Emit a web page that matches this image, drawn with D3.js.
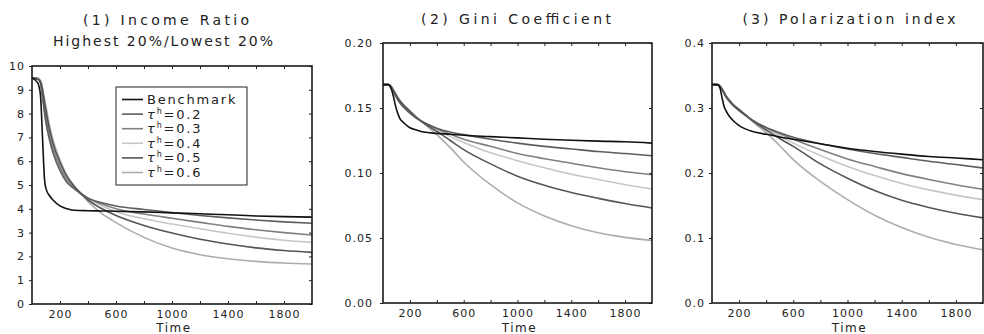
<!DOCTYPE html>
<html>
<head>
<meta charset="utf-8">
<script src="https://d3js.org/d3.v7.min.js"></script>
<style>
    body { margin: 0; background: #fff; }
    svg text { font-family: "DejaVu Sans", sans-serif; fill: #222; }
</style>
</head>
<body>
<div id="chart"></div>
<script>
// Time grid shared by every series
var timeSteps = [0, 40, 60, 75, 90, 100, 125, 150, 200, 250, 300, 400, 500, 600, 800, 1000, 1200, 1400, 1600, 1800, 2000];

// Series: Benchmark, tau^h = 0.2 .. 0.6
var seriesNames = ["Benchmark", "0.2", "0.3", "0.4", "0.5", "0.6"];
var seriesColors = ["#111111", "#5e5e5e", "#808080", "#c6c6c6", "#555555", "#adadad"];

var incomeRatio = [
    [9.5, 9.3, 8.8, 7.0, 5.2, 4.85, 4.55, 4.37, 4.12, 4.0, 3.94, 3.92, 3.91, 3.9, 3.87, 3.83, 3.79, 3.75, 3.7, 3.67, 3.65],
    [9.5, 9.45, 9.3, 8.7, 8.0, 7.6, 6.9, 6.35, 5.6, 5.1, 4.85, 4.45, 4.25, 4.12, 3.97, 3.84, 3.72, 3.62, 3.53, 3.45, 3.39],
    [9.5, 9.45, 9.3, 8.8, 8.15, 7.8, 7.05, 6.5, 5.75, 5.2, 4.9, 4.45, 4.2, 4.0, 3.78, 3.6, 3.43, 3.26, 3.12, 3.0, 2.9],
    [9.5, 9.45, 9.35, 8.9, 8.3, 7.95, 7.2, 6.65, 5.85, 5.3, 4.95, 4.42, 4.12, 3.88, 3.58, 3.36, 3.16, 2.97, 2.81, 2.68, 2.59],
    [9.5, 9.45, 9.35, 9.0, 8.45, 8.1, 7.35, 6.75, 5.95, 5.35, 4.95, 4.38, 4.0, 3.72, 3.3, 2.98, 2.72, 2.52, 2.36, 2.25, 2.17],
    [9.5, 9.5, 9.4, 9.1, 8.6, 8.3, 7.5, 6.9, 6.05, 5.4, 4.98, 4.3, 3.8, 3.42, 2.8, 2.35, 2.07, 1.9, 1.79, 1.72, 1.68]
];

var giniCoefficient = [
    [0.168, 0.168, 0.165, 0.160, 0.153, 0.149, 0.142, 0.139, 0.1348, 0.133, 0.1315, 0.1305, 0.1298, 0.129, 0.128, 0.127, 0.126, 0.1252, 0.1245, 0.124, 0.123],
    [0.168, 0.168, 0.166, 0.163, 0.160, 0.158, 0.154, 0.151, 0.146, 0.142, 0.139, 0.1345, 0.1315, 0.1295, 0.126, 0.123, 0.1205, 0.1185, 0.1165, 0.115, 0.1133],
    [0.168, 0.168, 0.166, 0.1635, 0.1605, 0.1585, 0.1545, 0.1515, 0.1465, 0.1425, 0.139, 0.134, 0.1298, 0.126, 0.1205, 0.115, 0.111, 0.1075, 0.104, 0.101, 0.0987],
    [0.168, 0.168, 0.1665, 0.164, 0.161, 0.159, 0.155, 0.152, 0.147, 0.1425, 0.139, 0.1335, 0.128, 0.1235, 0.1155, 0.1095, 0.104, 0.099, 0.095, 0.091, 0.0877],
    [0.168, 0.168, 0.1665, 0.164, 0.1615, 0.1595, 0.1555, 0.1525, 0.1475, 0.1425, 0.1385, 0.132, 0.125, 0.118, 0.107, 0.0975, 0.0905, 0.085, 0.0805, 0.0765, 0.0731],
    [0.168, 0.168, 0.167, 0.1645, 0.162, 0.160, 0.156, 0.153, 0.148, 0.143, 0.1385, 0.1295, 0.1195, 0.1085, 0.091, 0.077, 0.067, 0.0595, 0.054, 0.0505, 0.0482]
];

var polarizationIndex = [
    [0.336, 0.336, 0.330, 0.315, 0.302, 0.297, 0.288, 0.282, 0.273, 0.2675, 0.264, 0.2595, 0.2555, 0.252, 0.245, 0.238, 0.233, 0.229, 0.2255, 0.223, 0.2205],
    [0.336, 0.336, 0.333, 0.328, 0.322, 0.318, 0.311, 0.305, 0.296, 0.288, 0.281, 0.27, 0.262, 0.255, 0.245, 0.237, 0.23, 0.224, 0.218, 0.213, 0.2077],
    [0.336, 0.336, 0.333, 0.3285, 0.3225, 0.3185, 0.3115, 0.3055, 0.2965, 0.2885, 0.281, 0.2695, 0.2605, 0.252, 0.236, 0.2215, 0.21, 0.199, 0.19, 0.182, 0.175],
    [0.336, 0.336, 0.3335, 0.329, 0.323, 0.319, 0.312, 0.306, 0.297, 0.289, 0.281, 0.268, 0.257, 0.246, 0.227, 0.21, 0.196, 0.184, 0.174, 0.166, 0.159],
    [0.336, 0.336, 0.3335, 0.329, 0.3235, 0.3195, 0.3125, 0.3065, 0.2975, 0.289, 0.2805, 0.266, 0.253, 0.241, 0.214, 0.192, 0.173, 0.158, 0.147, 0.138, 0.131],
    [0.336, 0.336, 0.334, 0.3295, 0.324, 0.320, 0.313, 0.307, 0.298, 0.289, 0.279, 0.262, 0.242, 0.2205, 0.187, 0.159, 0.135, 0.116, 0.101, 0.09, 0.082]
];

// Axis ticks
var xTickMarks = [200, 400, 600, 800, 1000, 1200, 1400, 1600, 1800];
var xTickLabels = [200, 600, 1000, 1400, 1800];
var incomeTicks = [0, 1, 2, 3, 4, 5, 6, 7, 8, 9, 10];
var giniTicks = [0, 0.05, 0.10, 0.15, 0.20];
var polarTicks = [0, 0.1, 0.2, 0.3, 0.4];

var w = 984, h = 334;

var svg = d3.select("#chart")
    .append("svg")
    .attr("width", w)
    .attr("height", h);

function drawPanel(opt) {
    var xScale = d3.scaleLinear().domain([0, 2000]).range([opt.left, opt.right]);
    var yScale = d3.scaleLinear().domain(opt.yDomain).range([opt.bottom, opt.top]);

    var g = svg.append("g");

    // bottom axis: inward ticks, labels only every other tick
    g.append("g")
        .attr("transform", "translate(0," + opt.bottom + ")")
        .call(d3.axisBottom(xScale)
            .tickValues(xTickMarks)
            .tickSize(-3)
            .tickPadding(6)
            .tickFormat(function(d) { return xTickLabels.indexOf(d) >= 0 ? d : ""; }))
        .call(styleAxis);

    // top axis: ticks only
    g.append("g")
        .attr("transform", "translate(0," + opt.top + ")")
        .call(d3.axisTop(xScale).tickValues(xTickMarks).tickSize(-3).tickFormat(""))
        .call(styleAxis);

    // left axis
    g.append("g")
        .attr("transform", "translate(" + opt.left + ",0)")
        .call(d3.axisLeft(yScale)
            .tickValues(opt.yTicks)
            .tickSize(3)
            .tickPadding(opt.yPad)
            .tickFormat(d3.format(opt.yFormat)))
        .call(styleAxis);

    // right axis: ticks only
    g.append("g")
        .attr("transform", "translate(" + opt.right + ",0)")
        .call(d3.axisRight(yScale).tickValues(opt.yTicks).tickSize(-3).tickFormat(""))
        .call(styleAxis);

    // lines
    var line = d3.line()
        .x(function(d, i) { return xScale(timeSteps[i]); })
        .y(function(d) { return yScale(d); })
        .curve(d3.curveMonotoneX);

    // draw lightest first so the dark ones stay on top
    var order = [3, 5, 2, 1, 4, 0];
    order.forEach(function(k) {
        g.append("path")
            .datum(opt.data[k])
            .attr("fill", "none")
            .attr("stroke", seriesColors[k])
            .attr("stroke-width", 1.6)
            .attr("d", line);
    });

    // frame
    g.append("rect")
        .attr("x", opt.left)
        .attr("y", opt.top)
        .attr("width", opt.right - opt.left)
        .attr("height", opt.bottom - opt.top)
        .attr("fill", "none")
        .attr("stroke", "#1a1a1a")
        .attr("stroke-width", 1.6);

    // titles (stretched to the width they take in the original)
    opt.title.forEach(function(t) {
        g.append("text")
            .attr("x", t.x)
            .attr("y", t.y)
            .attr("text-anchor", "middle")
            .attr("textLength", t.len)
            .attr("lengthAdjust", "spacing")
            .style("font-size", "14px")
            .text(t.text);
    });

    // x label
    g.append("text")
        .attr("x", (opt.left + opt.right) / 2 + 2)
        .attr("y", 332)
        .attr("text-anchor", "middle")
        .style("font-size", "12px")
        .style("letter-spacing", "1.5px")
        .text("Time");

    return { x: xScale, y: yScale, g: g };
}

function styleAxis(sel) {
    sel.select(".domain").remove();
    sel.selectAll(".tick line").attr("stroke", "#222").attr("stroke-width", 1);
    sel.selectAll(".tick text")
        .style("font-size", "11px")
        .style("letter-spacing", "1px")
        .attr("fill", "#333");
}

var p1 = drawPanel({
    left: 32, right: 312, top: 66, bottom: 304,
    yDomain: [0, 10], yTicks: incomeTicks, yFormat: "d", yPad: 4,
    data: incomeRatio,
    title: [{ text: "(1) Income Ratio", x: 166, y: 25, len: 166 },
            { text: "Highest 20%/Lowest 20%", x: 163, y: 46, len: 220 }]
});

drawPanel({
    left: 383, right: 652, top: 43, bottom: 303,
    yDomain: [0, 0.20], yTicks: giniTicks, yFormat: ".2f", yPad: 7,
    data: giniCoefficient,
    title: [{ text: "(2) Gini Coefficient", x: 516, y: 24, len: 190 }]
});

drawPanel({
    left: 712, right: 983, top: 43, bottom: 303,
    yDomain: [0, 0.4], yTicks: polarTicks, yFormat: ".1f", yPad: 4,
    data: polarizationIndex,
    title: [{ text: "(3) Polarization index", x: 849, y: 24, len: 213 }]
});

// Legend in panel 1
var legend = p1.g.append("g").attr("transform", "translate(116,87)");
legend.append("rect")
    .attr("width", 131)
    .attr("height", 98)
    .attr("fill", "#fff")
    .attr("stroke", "#222")
    .attr("stroke-width", 1);

seriesNames.forEach(function(name, i) {
    var yy = 12.5 + i * 14.6;
    legend.append("line")
        .attr("x1", 6).attr("x2", 27)
        .attr("y1", yy).attr("y2", yy)
        .attr("stroke", seriesColors[i])
        .attr("stroke-width", 1.6);
    var t = legend.append("text")
        .attr("x", 31)
        .attr("y", yy + 4.5)
        .style("font-size", "13px")
        .style("letter-spacing", "1.8px");
    if (i === 0) {
        t.text(name);
    } else {
        t.append("tspan").style("font-style", "italic").text("τ");
        t.append("tspan").attr("dy", -5).style("font-size", "8px").text("h");
        t.append("tspan").attr("dy", 5).text("=" + name);
    }
});
</script>
</body>
</html>
